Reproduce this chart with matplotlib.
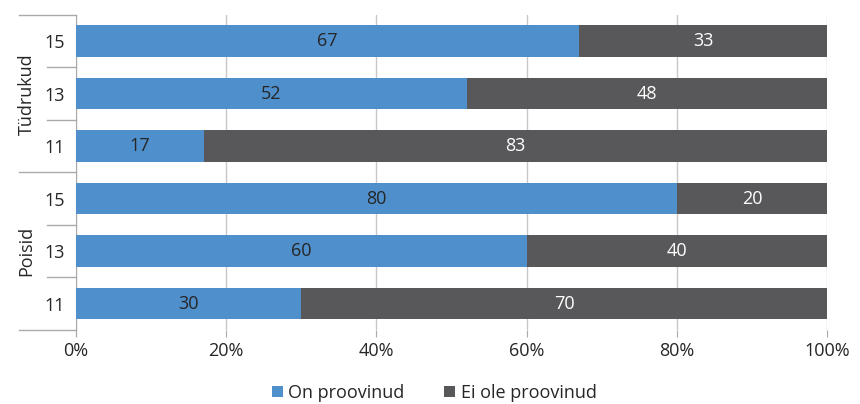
import matplotlib.pyplot as plt
from matplotlib.lines import Line2D

plt.rcParams['font.family'] = ['Open Sans', 'DejaVu Sans']

# bottom to top
groups = ['Poisid', 'Tüdrukud']
ages = ['11', '13', '15']
tried = [30, 60, 80, 17, 52, 67]
not_tried = [70, 40, 20, 83, 48, 33]

blue = '#4F8FCC'
gray = '#58585A'
txt = '#262626'

fig = plt.figure(figsize=(8.6, 4.04), dpi=100)
ax = fig.add_axes([0.0884, 0.1832, 0.8732, 0.7797])

y = list(range(len(tried)))
ax.barh(y, tried, height=0.6, color=blue, label='On proovinud', zorder=3)
ax.barh(y, not_tried, left=tried, height=0.6, color=gray, label='Ei ole proovinud', zorder=3)

for i in y:
    ax.text(tried[i] / 2, i, str(tried[i]), ha='center', va='center', color=txt, fontsize=13, zorder=4)
    ax.text(tried[i] + not_tried[i] / 2, i, str(not_tried[i]), ha='center', va='center', color='white', fontsize=13, zorder=4)

ax.set_xlim(0, 100)
ax.set_ylim(-0.5, 5.5)
ax.set_xticks(range(0, 101, 20))
ax.set_xticklabels([f'{v}%' for v in range(0, 101, 20)], fontsize=13, color=txt)
ax.xaxis.grid(True, color='#C8C8C8', linewidth=1, zorder=0)
ax.tick_params(axis='x', length=5, color='#AAAAAA', pad=4)
ax.set_yticks(y)
ax.set_yticklabels(ages * 2, fontsize=13, color=txt)
ax.tick_params(axis='y', length=0, pad=8)
for s in ['top', 'right', 'bottom']:
    ax.spines[s].set_visible(False)
ax.spines['left'].set_color('#AAAAAA')
ax.spines['left'].set_bounds(-0.62, 5.5)

# hierarchical category separators on the left
trans = ax.get_yaxis_transform()
for yy in [-0.5, 2.5, 5.5]:
    ax.add_line(Line2D([-0.076, 0], [yy, yy], transform=trans, color='#AAAAAA', lw=1, clip_on=False))
for yy in [0.5, 1.5, 3.5, 4.5]:
    ax.add_line(Line2D([-0.038, 0], [yy, yy], transform=trans, color='#AAAAAA', lw=1, clip_on=False))
for gi, g in enumerate(groups):
    ax.text(-0.066, gi * 3 + 1, g, transform=trans, rotation=90, ha='center', va='center',
            fontsize=13, color=txt)

fig.legend(loc='lower center', bbox_to_anchor=(0.505, -0.035), ncol=2, frameon=False,
           fontsize=13, handlelength=0.6, handleheight=0.6, columnspacing=2.2, handletextpad=0.3,
           labelcolor=txt)

fig.savefig('out.png', dpi=100)
